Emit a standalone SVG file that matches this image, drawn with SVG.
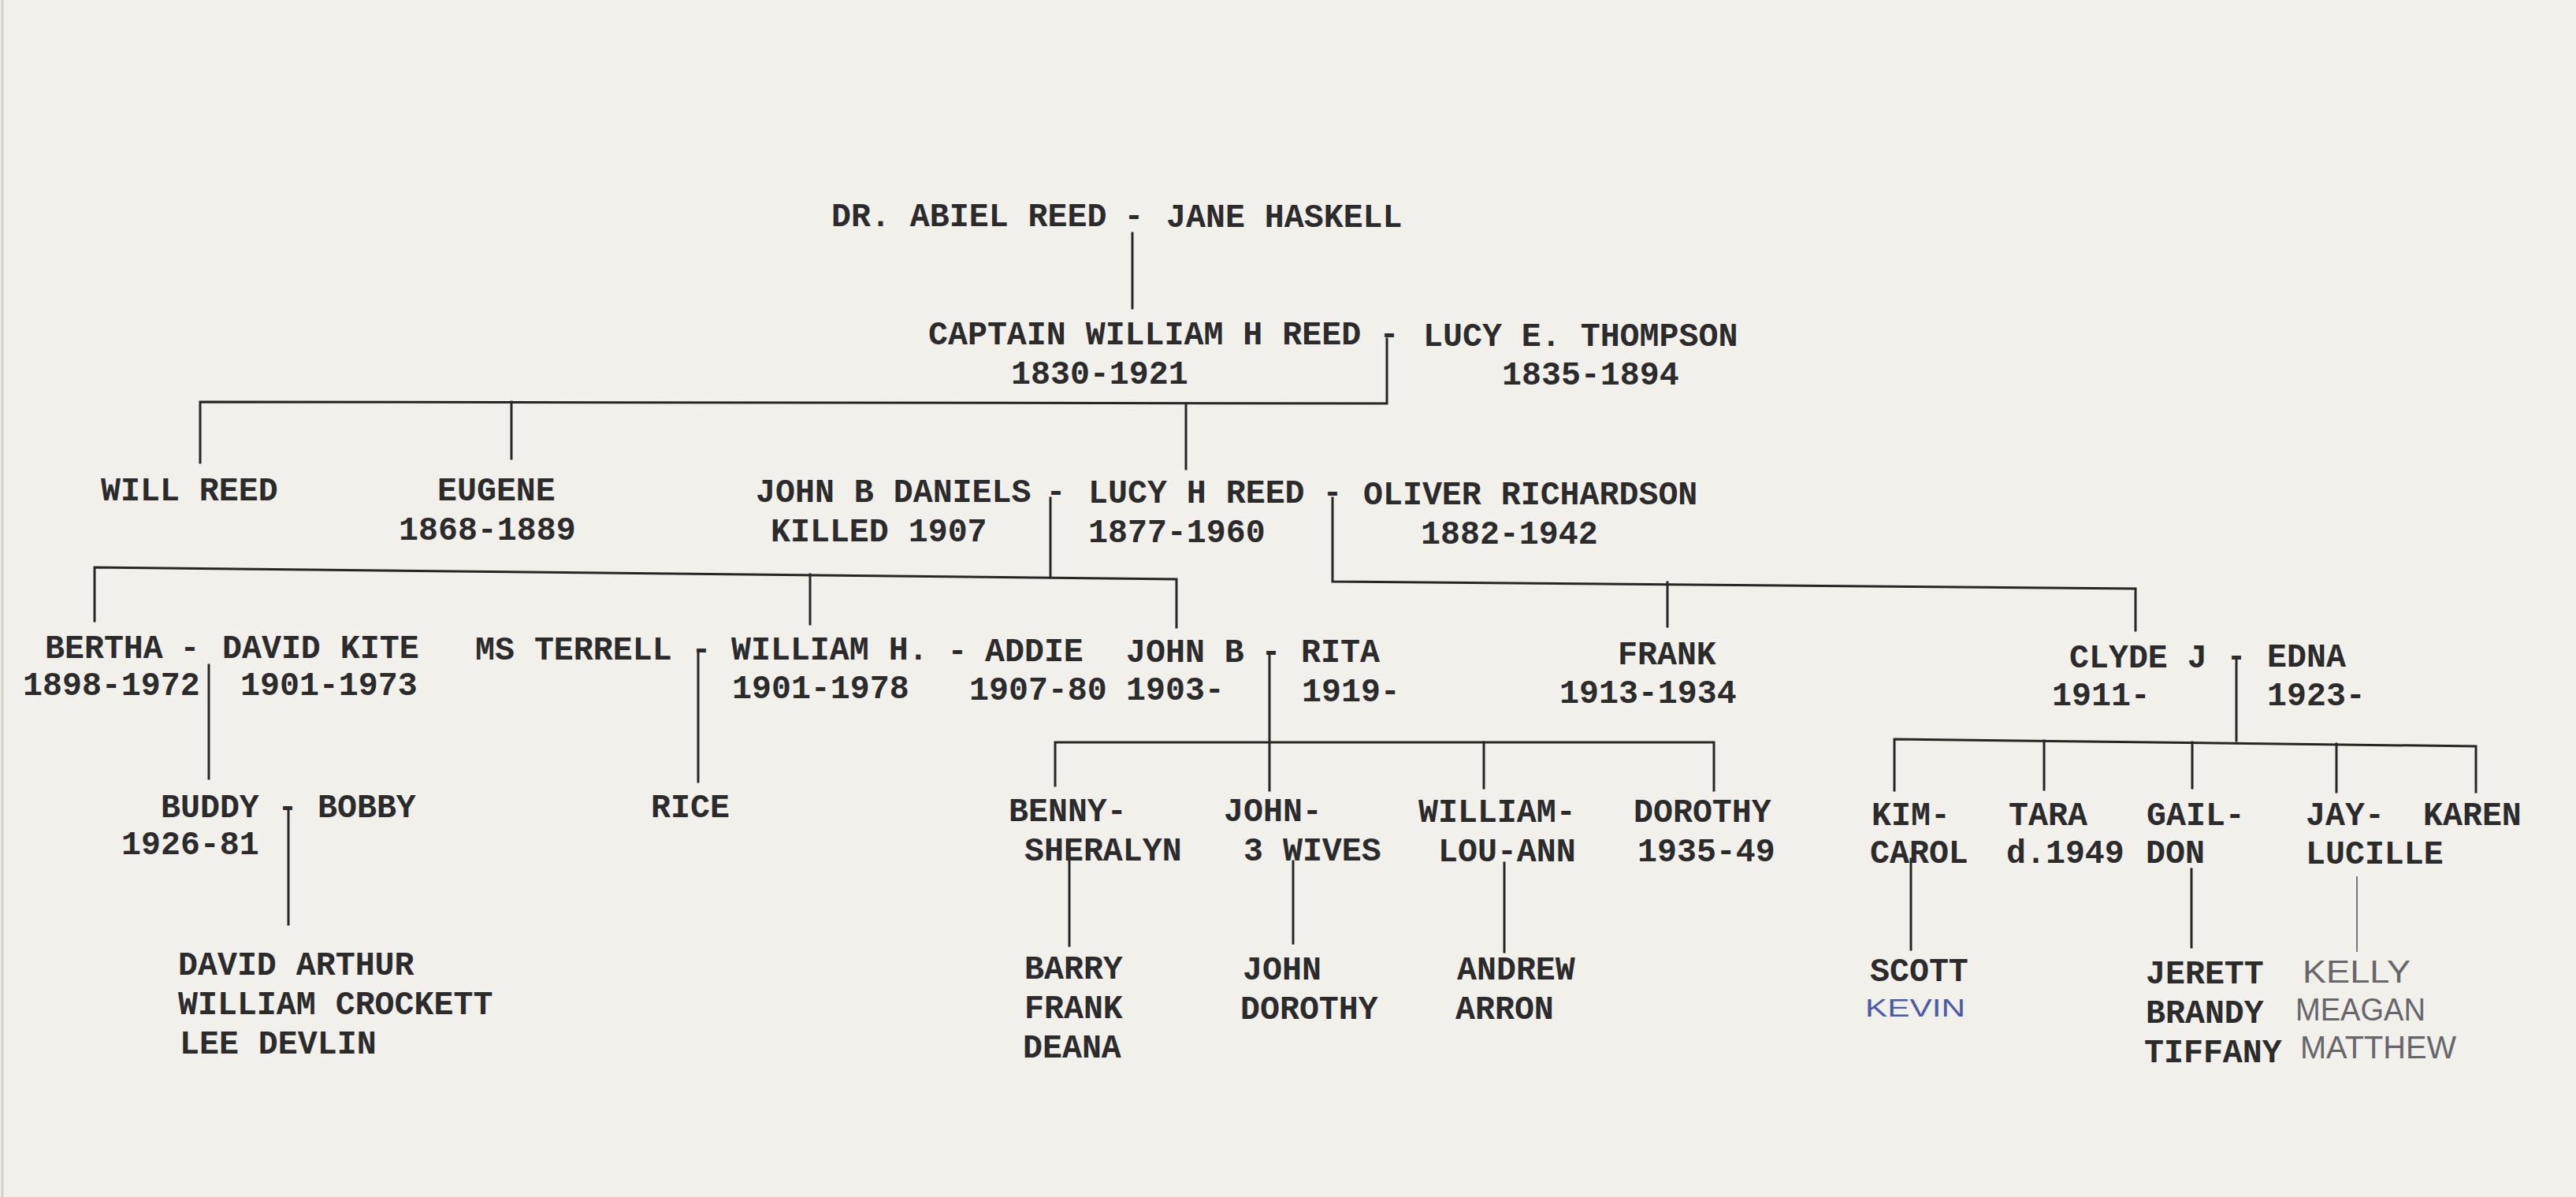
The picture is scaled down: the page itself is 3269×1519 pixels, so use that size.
<svg xmlns="http://www.w3.org/2000/svg" width="3269" height="1519" viewBox="0 0 3269 1519">
<style>
.t{font-family:"Liberation Mono","DejaVu Sans Mono",monospace;font-size:41.6px;font-weight:bold;fill:#2b2b2b}
.d{text-anchor:middle}
.c{stroke:#262626;stroke-width:3;fill:none;stroke-linecap:square}
.p{stroke:#76767a;stroke-width:2;fill:none}
.hw{font-family:"Liberation Sans","DejaVu Sans",sans-serif;font-weight:normal;fill:#66666b}
.blue{fill:#4a5aa8}
</style>
<rect width="3269" height="1519" fill="#f1f0eb"/>
<line x1="3" y1="0" x2="3" y2="1519" stroke="#cfcfcb" stroke-width="3"/>

<g id="connectors">
<path class="c" d="M1437 296V391"/>
<path class="c" d="M1760 430V512L254 510V587"/>
<path class="c" d="M649 510V582"/>
<path class="c" d="M1505 512V595"/>
<path class="c" d="M1333 632V733"/>
<path class="c" d="M120 788V720L1493 735V796"/>
<path class="c" d="M1028 729V792"/>
<path class="c" d="M1691 632V738L2710 747V800"/>
<path class="c" d="M2116 739V795"/>
<path class="c" d="M265 844V988"/>
<path class="c" d="M886 828V992"/>
<path class="c" d="M1611 832V1003"/>
<path class="c" d="M1339 997V942H2175V1003"/>
<path class="c" d="M1883 942V1000"/>
<path class="c" d="M2838 837V940"/>
<path class="c" d="M2404 1003V938L3142 947V1005"/>
<path class="c" d="M2594 940V1002"/>
<path class="c" d="M2782 942V1000"/>
<path class="c" d="M2965 944V1005"/>
<path class="c" d="M366 1025V1173"/>
<path class="c" d="M1357 1090V1200"/>
<path class="c" d="M1641 1093V1197"/>
<path class="c" d="M1909 1095V1208"/>
<path class="c" d="M2425 1090V1205"/>
<path class="c" d="M2781 1103V1202"/>
<path class="p" d="M2991 1112V1208"/>
</g>

<g id="couple-abiel-jane">
<g id="abiel-reed"><text class="t" x="1055" y="287">DR. ABIEL REED</text></g>
<text class="t d" x="1439" y="287">-</text>
<g id="jane-haskell"><text class="t" x="1480" y="288">JANE HASKELL</text></g>
</g>

<g id="couple-william-lucy">
<g id="captain-william-reed"><text class="t" x="1178" y="437">CAPTAIN WILLIAM H REED</text><text class="t" x="1283" y="487">1830-1921</text></g>
<text class="t d" x="1763" y="437">-</text>
<g id="lucy-thompson"><text class="t" x="1806" y="439">LUCY E. THOMPSON</text><text class="t" x="1906" y="488">1835-1894</text></g>
</g>

<g id="will-reed"><text class="t" x="128" y="635">WILL REED</text></g>
<g id="eugene"><text class="t" x="555" y="635">EUGENE</text><text class="t" x="506" y="685">1868-1889</text></g>

<g id="couple-lucy-marriages">
<g id="john-b-daniels"><text class="t" x="959" y="637">JOHN B DANIELS</text><text class="t" x="978" y="687">KILLED 1907</text></g>
<text class="t d" x="1340" y="637">-</text>
<g id="lucy-h-reed"><text class="t" x="1381" y="638">LUCY H REED</text><text class="t" x="1381" y="688">1877-1960</text></g>
<text class="t d" x="1691" y="638">-</text>
<g id="oliver-richardson"><text class="t" x="1730" y="640">OLIVER RICHARDSON</text><text class="t" x="1803" y="690">1882-1942</text></g>
</g>

<g id="couple-bertha-david">
<g id="bertha"><text class="t" x="57" y="835">BERTHA</text><text class="t" x="29" y="882">1898-1972</text></g>
<text class="t d" x="241" y="835">-</text>
<g id="david-kite"><text class="t" x="282" y="835">DAVID KITE</text><text class="t" x="305" y="882">1901-1973</text></g>
</g>

<g id="couple-william-h">
<g id="ms-terrell"><text class="t" x="603" y="837">MS TERRELL</text></g>
<text class="t d" x="890" y="837">-</text>
<g id="william-h"><text class="t" x="928" y="837">WILLIAM H.</text><text class="t" x="929" y="886">1901-1978</text></g>
<text class="t d" x="1215" y="839">-</text>
<g id="addie"><text class="t" x="1250" y="839">ADDIE</text><text class="t" x="1230" y="888">1907-80</text></g>
</g>

<g id="couple-john-rita">
<g id="john-b"><text class="t" x="1429" y="840">JOHN B</text><text class="t" x="1429" y="888">1903-</text></g>
<text class="t d" x="1613" y="840">-</text>
<g id="rita"><text class="t" x="1651" y="840">RITA</text><text class="t" x="1652" y="890">1919-</text></g>
</g>

<g id="frank"><text class="t" x="2053" y="843">FRANK</text><text class="t" x="1979" y="892">1913-1934</text></g>

<g id="couple-clyde-edna">
<g id="clyde-j"><text class="t" x="2626" y="847">CLYDE J</text><text class="t" x="2604" y="895">1911-</text></g>
<text class="t d" x="2838" y="846">-</text>
<g id="edna"><text class="t" x="2877" y="846">EDNA</text><text class="t" x="2877" y="895">1923-</text></g>
</g>

<g id="couple-buddy-bobby">
<g id="buddy"><text class="t" x="204" y="1037">BUDDY</text><text class="t" x="154" y="1084">1926-81</text></g>
<text class="t d" x="365" y="1037">-</text>
<g id="bobby"><text class="t" x="403" y="1037">BOBBY</text></g>
</g>
<g id="buddy-children"><text class="t" x="226" y="1237">DAVID ARTHUR</text><text class="t" x="226" y="1287">WILLIAM CROCKETT</text><text class="t" x="228" y="1337">LEE DEVLIN</text></g>

<g id="rice"><text class="t" x="826" y="1037">RICE</text></g>

<g id="benny-sheralyn"><text class="t" x="1280" y="1042">BENNY-</text><text class="t" x="1300" y="1092">SHERALYN</text></g>
<g id="john-3-wives"><text class="t" x="1553" y="1042">JOHN-</text><text class="t" x="1578" y="1092">3 WIVES</text></g>
<g id="william-lou-ann"><text class="t" x="1800" y="1043">WILLIAM-</text><text class="t" x="1825" y="1093">LOU-ANN</text></g>
<g id="dorothy"><text class="t" x="2073" y="1043">DOROTHY</text><text class="t" x="2078" y="1093">1935-49</text></g>

<g id="benny-children"><text class="t" x="1300" y="1242">BARRY</text><text class="t" x="1300" y="1292">FRANK</text><text class="t" x="1298" y="1342">DEANA</text></g>
<g id="john-children"><text class="t" x="1577" y="1243">JOHN</text><text class="t" x="1574" y="1293">DOROTHY</text></g>
<g id="william-children"><text class="t" x="1849" y="1243">ANDREW</text><text class="t" x="1847" y="1293">ARRON</text></g>

<g id="kim-carol"><text class="t" x="2375" y="1047">KIM-</text><text class="t" x="2373" y="1095">CAROL</text></g>
<g id="tara"><text class="t" x="2549" y="1047">TARA</text><text class="t" x="2546" y="1095">d.1949</text></g>
<g id="gail-don"><text class="t" x="2724" y="1047">GAIL-</text><text class="t" x="2723" y="1095">DON</text></g>
<g id="jay-lucille"><text class="t" x="2926" y="1047">JAY-</text><text class="t" x="2926" y="1096">LUCILLE</text></g>
<g id="karen"><text class="t" x="3075" y="1047">KAREN</text></g>

<g id="kim-children"><text class="t" x="2373" y="1245">SCOTT</text><text class="hw blue" x="2367" y="1290" font-size="32" textLength="127" lengthAdjust="spacingAndGlyphs">KEVIN</text></g>
<g id="gail-children"><text class="t" x="2723" y="1248">JERETT</text><text class="t" x="2723" y="1298">BRANDY</text><text class="t" x="2721" y="1348">TIFFANY</text></g>
<g id="jay-children">
<text class="hw" x="2922" y="1247" font-size="41" textLength="137" lengthAdjust="spacingAndGlyphs">KELLY</text>
<text class="hw" x="2913" y="1295" font-size="41" textLength="165" lengthAdjust="spacingAndGlyphs">MEAGAN</text>
<text class="hw" x="2919" y="1343" font-size="40" textLength="198" lengthAdjust="spacingAndGlyphs">MATTHEW</text>
</g>
</svg>
